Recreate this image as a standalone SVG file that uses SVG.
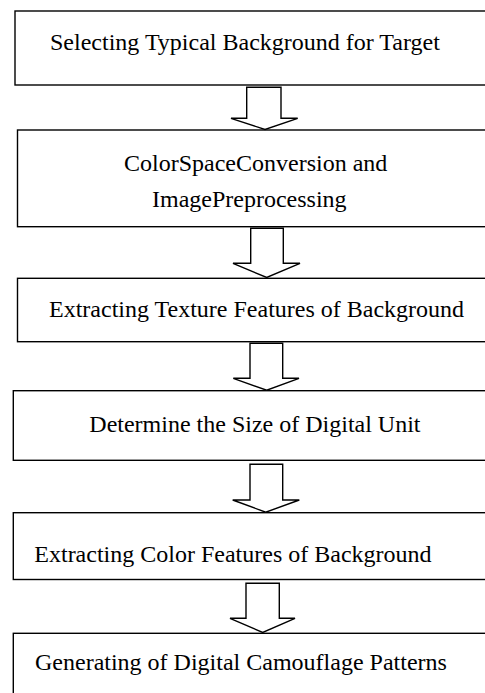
<svg xmlns="http://www.w3.org/2000/svg" width="485" height="693" viewBox="0 0 485 693">
  <style>
    .box { fill: #fff; stroke: #000; stroke-width: 1.4; }
    .arrow { fill: #fff; stroke: #000; stroke-width: 1.4; stroke-linejoin: miter; }
    .label { font-family: "Liberation Serif", "Times New Roman", serif; font-size: 24px; fill: #000; }
  </style>
  <rect width="485" height="693" fill="#fff"/>

  <!-- process steps; boxes run off the right edge -->
  <g id="step1">
    <rect class="box" x="15" y="11" width="500" height="74"/>
    <text class="label" x="50" y="50">Selecting Typical Background for Target</text>
  </g>
  <g id="step2">
    <rect class="box" x="17.5" y="130" width="500" height="96.7"/>
    <text class="label" x="124" y="171">ColorSpaceConversion and</text>
    <text class="label" x="152" y="206.7">ImagePreprocessing</text>
  </g>
  <g id="step3">
    <rect class="box" x="17.5" y="278.3" width="500" height="63.4"/>
    <text class="label" x="49" y="317">Extracting Texture Features of Background</text>
  </g>
  <g id="step4">
    <rect class="box" x="13.3" y="390.7" width="500" height="69.6"/>
    <text class="label" x="89.3" y="431.7">Determine the Size of Digital Unit</text>
  </g>
  <g id="step5">
    <rect class="box" x="13.3" y="512.7" width="500" height="66.8"/>
    <text class="label" x="34.3" y="561.7">Extracting Color Features of Background</text>
  </g>
  <g id="step6">
    <rect class="box" x="13.3" y="633.3" width="500" height="80"/>
    <text class="label" x="35" y="670">Generating of Digital Camouflage Patterns</text>
  </g>

  <!-- hollow block arrows between steps -->
  <g id="connectors">
    <polygon class="arrow" points="246.7,87.3 281,87.3 281,118.3 297.7,118.3 265,129.5 231,118.3 246.7,118.3"/>
    <polygon class="arrow" points="250.7,228.3 283.3,228.3 283.3,263.3 300,263.3 266.7,277.5 233,263.3 250.7,263.3"/>
    <polygon class="arrow" points="250,343.3 282.7,343.3 282.7,378.3 299,378.3 266.7,390.2 233.3,378.3 250,378.3"/>
    <polygon class="arrow" points="250,464.3 282.7,464.3 282.7,500 299.3,500 265.7,512.2 232.7,500 250,500"/>
    <polygon class="arrow" points="246,583.3 279.3,583.3 279.3,618.3 295,618.3 262.7,632.5 230,618.3 246,618.3"/>
  </g>
</svg>
